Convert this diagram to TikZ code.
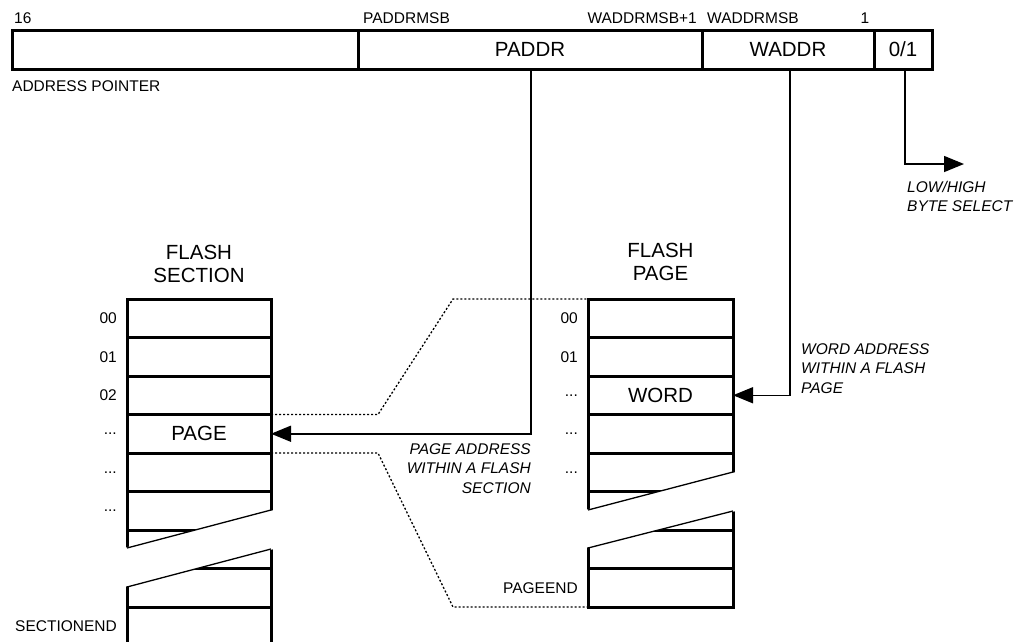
\documentclass[tikz,border=0pt]{standalone}
\usepackage{fontspec}
\setmainfont{Liberation Sans}
\usetikzlibrary{arrows.meta}

\newcommand\rowdots{...}

\tikzset{
  cell/.style={draw, line width=3pt, inner sep=0pt, outer sep=0pt, minimum height=39pt},
  row/.style={draw, line width=3pt, inner sep=0pt, outer sep=0pt, minimum width=#1, minimum height=38.5pt},
  big/.style={font=\fontsize{20.5}{22.5}\selectfont},
  small/.style={inner sep=0pt, font=\fontsize{15.5}{19}\selectfont},
  note/.style={inner sep=0pt, font=\fontsize{15.5}{19.5}\selectfont\itshape},
  link/.style={line width=1.5pt, -{Triangle[length=20pt,width=16pt]}},
  edge/.style={line width=1.3pt, dash pattern=on 2pt off 2pt},
  cut/.style={line width=1.3pt}
}

\begin{document}
\begin{tikzpicture}[x=1pt, y=-1pt, line cap=butt, line join=miter]

  %% ════ address pointer ════
  \node[cell, minimum width=346pt] (msb)   at (185.0,49.5) {};
  \node[cell, big, minimum width=344pt] (paddr) at (530.0,49.5) {PADDR};
  \node[cell, big, minimum width=172pt] (waddr) at (788.0,49.5) {WADDR};
  \node[cell, big, minimum width=58pt]  (sel)   at (903.0,49.5) {0/1};

  \node[small, anchor=base west] (bit16)  at (14.0,23.0)  {16};
  \node[small, anchor=base west] (pmsb)   at (363.0,23.0) {PADDRMSB};
  \node[small, anchor=base east] (wmsbp)  at (697.0,23.0) {WADDRMSB+1};
  \node[small, anchor=base west] (wmsb)   at (707.0,23.0) {WADDRMSB};
  \node[small, anchor=base]      (bit1)   at (865.0,23.0) {1};
  \node[small, anchor=base west] (aplbl)  at (12.0,91.0)  {ADDRESS POINTER};

  %% ════ flash section ════
  \node[big, align=center, inner sep=0pt, anchor=north] (sectitle) at (199.0,245.0) {FLASH\\SECTION};
  \foreach \i in {0,...,8}
    \node[row=144pt] (sec\i) at (199.0,{318.25+38.5*\i}) {};
  \node[big] at (sec3) {PAGE};

  \foreach \i/\t in {0/00,1/01,2/02,3/\rowdots,4/\rowdots,5/\rowdots,8/SECTIONEND}
    \node[small, anchor=east] at ([xshift=-10pt]sec\i.west) {\t};

  % break in the section stack
  \fill[white] (124.0,548.0) -- (274.0,510.0) -- (274.0,549.0) -- (124.0,587.0) -- cycle;
  \draw[cut] (127.0,548.0) -- (271.0,510.0);
  \draw[cut] (127.0,587.0) -- (271.0,549.0);

  %% ════ flash page ════
  \node[big, align=center, inner sep=0pt, anchor=north] (pgtitle) at (660.5,243.0) {FLASH\\PAGE};
  \foreach \i in {0,...,7}
    \node[row=145pt] (pg\i) at (660.5,{318.25+38.5*\i}) {};
  \node[big] at (pg2) {WORD};

  \foreach \i/\t in {0/00,1/01,2/\rowdots,3/\rowdots,4/\rowdots,7/PAGEEND}
    \node[small, anchor=east] at ([xshift=-10pt]pg\i.west) {\t};

  % break in the page stack
  \fill[white] (585.0,510.0) -- (736.0,472.0) -- (736.0,511.0) -- (585.0,548.0) -- cycle;
  \draw[cut] (588.0,510.0) -- (733.0,472.0);
  \draw[cut] (588.0,548.0) -- (733.0,511.0);

  %% ════ dotted zoom outline ════
  \draw[edge] (sec3.north east) -- (378.0,414.5) -- (453.0,299.0) -- (pg0.north west);
  \draw[edge] (sec3.south east) -- (378.0,453.0) -- (453.0,607.0) -- (pg7.south west);

  %% ════ connectors ════
  \coordinate (selend) at (964.0,164.0);
  \draw[link] ([xshift=1pt]paddr.south) |- (sec3.east);
  \draw[link] ([xshift=2pt]waddr.south) |- (pg2.east);
  \draw[link] ([xshift=2pt]sel.south) |- (selend);

  %% ════ notes ════
  \node[note, align=right, anchor=north east] (pnote) at (531.0,443.0) {PAGE ADDRESS\\WITHIN A FLASH\\SECTION};
  \node[note, align=left, anchor=north west]  (wnote) at (801.0,343.0) {WORD ADDRESS\\WITHIN A FLASH\\PAGE};
  \node[note, align=left, anchor=north west]  (snote) at (907.0,181.0) {LOW/HIGH\\BYTE SELECT};

  \pgfresetboundingbox
  \path[use as bounding box] (0,0) rectangle (1026,641);
\end{tikzpicture}
\end{document}
